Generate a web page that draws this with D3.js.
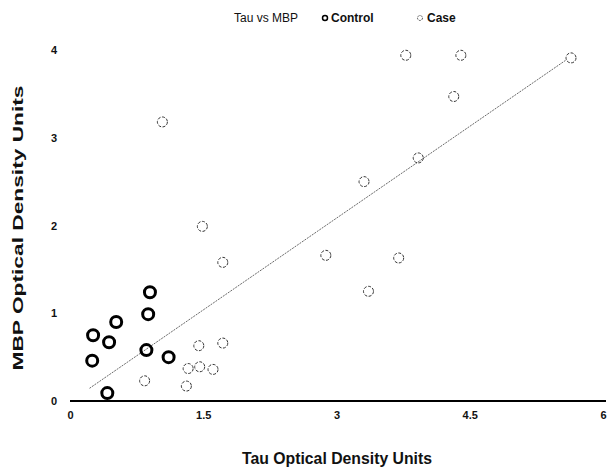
<!DOCTYPE html>
<html>
<head>
<meta charset="utf-8">
<script src="https://cdn.jsdelivr.net/npm/d3@7"></script>
<style>
  body { margin: 0; background: #fff; }
  svg { display: block; }
  text { font-family: "Liberation Sans", Arial, sans-serif; }
</style>
</head>
<body>
<svg id="chart" width="616" height="471"></svg>
<script>
// ---- data ----
const controlX = [0.90, 0.88, 0.52, 0.26, 0.44, 0.86, 1.11, 0.25, 0.42];
const controlY = [1.24, 0.99, 0.90, 0.75, 0.67, 0.58, 0.50, 0.46, 0.09];
const caseX = [1.72, 1.45, 1.72, 0.84, 1.33, 1.46, 1.61, 1.31, 1.04, 1.49,
               3.92, 3.31, 2.88, 3.70, 3.36, 3.78, 4.40, 5.64, 4.32];
const caseY = [1.58, 0.63, 0.66, 0.23, 0.37, 0.39, 0.36, 0.17, 3.18, 1.99,
               2.77, 2.50, 1.66, 1.63, 1.25, 3.94, 3.94, 3.91, 3.47];
const xTicks = [0, 1.5, 3, 4.5, 6];
const xTickLabels = ["0", "1.5", "3", "4.5", "6"];
const yTicks = [0, 1, 2, 3, 4];
const trendX = [0.22, 5.59];
const trendY = [0.145, 3.89];
const titleText = "Tau vs MBP";
const seriesNames = ["Control", "Case"];
const xLabel = "Tau Optical Density Units";
const yLabel = "MBP Optical Density Units";

// ---- layout ----
const svg = d3.select("#chart");
const x = d3.scaleLinear().domain([0, 6]).range([70, 603]);
const y = d3.scaleLinear().domain([0, 4]).range([401, 50]);

// x axis
const xAxis = d3.axisBottom(x).tickValues(xTicks)
  .tickFormat((d, i) => xTickLabels[i]).tickSize(0).tickPadding(10);
const gx = svg.append("g").attr("transform", `translate(0,${y(0)})`).call(xAxis);
gx.select(".domain").attr("stroke", "#000").attr("stroke-width", 2)
  .attr("d", `M${x(0)},0H${x(6) + 3}`);
gx.selectAll("text").attr("font-size", 11).attr("font-weight", "bold").attr("fill", "#111");

// y axis (labels only)
const yAxis = d3.axisLeft(y).tickValues(yTicks).tickFormat(d3.format("d"))
  .tickSize(0).tickPadding(0);
const gy = svg.append("g").attr("transform", `translate(57,0)`).call(yAxis);
gy.select(".domain").remove();
gy.selectAll("text").attr("font-size", 11).attr("font-weight", "bold").attr("fill", "#111");

// trend line
svg.append("line")
  .attr("x1", x(trendX[0])).attr("y1", y(trendY[0]))
  .attr("x2", x(trendX[1])).attr("y2", y(trendY[1]))
  .attr("stroke", "#444").attr("stroke-width", 0.8)
  .attr("stroke-dasharray", "2,1");

// case points
const caseData = caseX.map((v, i) => ({ x: v, y: caseY[i] }));
svg.append("g").selectAll("circle").data(caseData).join("circle")
  .attr("cx", d => x(d.x)).attr("cy", d => y(d.y)).attr("r", 5)
  .attr("fill", "none").attr("stroke", "#333").attr("stroke-width", 1)
  .attr("stroke-dasharray", "3,1.5");

// control points
const controlData = controlX.map((v, i) => ({ x: v, y: controlY[i] }));
svg.append("g").selectAll("circle").data(controlData).join("circle")
  .attr("cx", d => x(d.x)).attr("cy", d => y(d.y)).attr("r", 5.5)
  .attr("fill", "none").attr("stroke", "#000").attr("stroke-width", 3);

// title and legend
svg.append("text").attr("x", 266).attr("y", 22).attr("text-anchor", "middle")
  .attr("font-size", 12).attr("fill", "#111").text(titleText);
svg.append("circle").attr("cx", 325).attr("cy", 18).attr("r", 2.5)
  .attr("fill", "none").attr("stroke", "#000").attr("stroke-width", 1.5);
svg.append("text").attr("x", 331).attr("y", 22).attr("font-size", 12)
  .attr("font-weight", "bold").attr("fill", "#111").text(seriesNames[0]);
svg.append("circle").attr("cx", 420).attr("cy", 18).attr("r", 2.5)
  .attr("fill", "none").attr("stroke", "#333").attr("stroke-width", 0.8)
  .attr("stroke-dasharray", "2,1");
svg.append("text").attr("x", 427).attr("y", 22).attr("font-size", 12)
  .attr("font-weight", "bold").attr("fill", "#111").text(seriesNames[1]);

// axis titles
svg.append("text").attr("x", 337).attr("y", 464).attr("text-anchor", "middle")
  .attr("font-size", 16).attr("font-weight", "bold").attr("fill", "#111")
  .attr("textLength", 190).attr("lengthAdjust", "spacingAndGlyphs")
  .text(xLabel);
svg.append("text").attr("transform", "translate(23,228) rotate(-90)")
  .attr("text-anchor", "middle").attr("font-size", 14).attr("font-weight", "bold")
  .attr("fill", "#111").attr("textLength", 285).attr("lengthAdjust", "spacingAndGlyphs")
  .text(yLabel);
</script>
</body>
</html>
